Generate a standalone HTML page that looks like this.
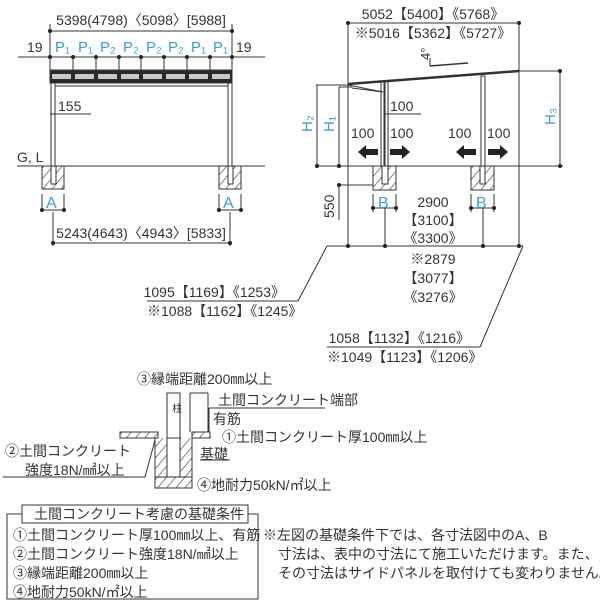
<!DOCTYPE html>
<html><head><meta charset="utf-8"><style>
html,body{margin:0;padding:0;background:#fff}
svg{display:block}
text{font-family:"Liberation Sans","Noto Sans CJK JP",sans-serif;fill:#333}
.b{fill:#3b9fd3}
</style></head><body>
<svg width="600" height="600" viewBox="0 0 600 600" xmlns="http://www.w3.org/2000/svg">
<defs>
<pattern id="h" width="7" height="7" patternUnits="userSpaceOnUse" patternTransform="rotate(40)">
<line x1="0" y1="0" x2="0" y2="7" stroke="#333" stroke-width="1.2"/></pattern>
</defs>
<g stroke="#333" stroke-width="1" fill="none">
<line x1="50" y1="31" x2="232" y2="31"/>
<line x1="50" y1="24" x2="50" y2="70"/><line x1="232" y1="24" x2="232" y2="70"/>
<line x1="18" y1="57" x2="265" y2="57"/>
<line x1="73" y1="57" x2="73" y2="70"/><line x1="96" y1="57" x2="96" y2="70"/><line x1="119" y1="57" x2="119" y2="70"/><line x1="141" y1="57" x2="141" y2="70"/><line x1="164" y1="57" x2="164" y2="70"/><line x1="187" y1="57" x2="187" y2="70"/><line x1="210" y1="57" x2="210" y2="70"/>
<rect x="50" y="70" width="182" height="13" fill="#2a2a2a"/>
<line x1="55" y1="86" x2="228" y2="86"/>
<rect x="51" y="83" width="4" height="83"/><rect x="228" y="83" width="4" height="83"/>
<line x1="50" y1="114" x2="91" y2="114"/>
<line x1="17" y1="166" x2="265" y2="166"/>
<rect x="42" y="166" width="22" height="23" fill="url(#h)"/>
<rect x="219" y="166" width="22" height="23" fill="url(#h)"/>
<rect x="51" y="166" width="5" height="18" fill="#fff"/><rect x="228" y="166" width="5" height="18" fill="#fff"/>
<line x1="42" y1="194" x2="42" y2="212"/><line x1="64" y1="194" x2="64" y2="212"/>
<line x1="219" y1="194" x2="219" y2="212"/><line x1="241" y1="194" x2="241" y2="212"/>
<line x1="40" y1="210" x2="66" y2="210"/><line x1="217" y1="210" x2="243" y2="210"/>
<line x1="53" y1="212" x2="53" y2="246"/><line x1="230" y1="212" x2="230" y2="246"/>
<line x1="53" y1="243" x2="230" y2="243"/>
<line x1="348" y1="23" x2="519" y2="23"/>
<line x1="348" y1="23" x2="348" y2="246"/><line x1="519" y1="23" x2="519" y2="246"/>
<line x1="348" y1="84" x2="519" y2="71" stroke-width="2.5"/>
<line x1="519" y1="71" x2="560" y2="71"/>
<line x1="560" y1="71" x2="560" y2="166"/>
<line x1="430" y1="66" x2="468" y2="63" stroke-width="1.5"/><line x1="430" y1="58" x2="430" y2="66"/>
<line x1="316" y1="85" x2="352" y2="85"/><line x1="339" y1="87" x2="352" y2="87"/>
<line x1="317" y1="85" x2="317" y2="166"/><line x1="339" y1="87" x2="339" y2="166"/>
<line x1="348" y1="85" x2="383" y2="92"/><line x1="352" y1="88" x2="383" y2="92"/>
<rect x="381" y="82" width="3" height="84"/><rect x="385" y="81" width="3" height="85"/>
<rect x="481" y="76" width="4" height="90"/>
<line x1="385" y1="114" x2="421" y2="114"/>
<line x1="316" y1="166" x2="563" y2="166"/>
<rect x="373" y="166" width="23" height="24" fill="url(#h)"/>
<rect x="471" y="166" width="23" height="24" fill="url(#h)"/>
<rect x="382" y="166" width="6" height="18" fill="#fff"/><rect x="480" y="166" width="5" height="18" fill="#fff"/>
<line x1="339" y1="185" x2="373" y2="185"/><line x1="339" y1="185" x2="339" y2="220"/>
<line x1="373" y1="194" x2="373" y2="212"/><line x1="396" y1="194" x2="396" y2="212"/>
<line x1="471" y1="194" x2="471" y2="212"/><line x1="494" y1="194" x2="494" y2="212"/>
<line x1="371" y1="208" x2="398" y2="208"/><line x1="469" y1="208" x2="496" y2="208"/>
<line x1="385" y1="208" x2="385" y2="246"/><line x1="483" y1="208" x2="483" y2="246"/>
<line x1="327" y1="246" x2="523" y2="246"/>
<polyline points="327,246 298,301 147,301"/>
<polyline points="523,246 480,347 327,347"/>
<rect x="167" y="393" width="13" height="72"/>
<line x1="190" y1="393" x2="190" y2="432"/><line x1="208" y1="393" x2="208" y2="432"/>
<line x1="190" y1="393" x2="208" y2="393"/>
<rect x="120" y="432" width="38" height="6" fill="url(#h)"/>
<rect x="192" y="432" width="18" height="6" fill="url(#h)"/>
<path d="M155 438 V488 H192 V438" fill="url(#h)"/>
<rect x="167" y="438" width="13" height="39" fill="#fff"/>
<line x1="155" y1="477" x2="192" y2="477"/>
<line x1="209" y1="408" x2="325" y2="408"/><line x1="209" y1="408" x2="209" y2="432"/>
<line x1="200" y1="460" x2="230" y2="460"/>
<polyline points="3,477 145,477 155,440"/>
<rect x="7" y="514" width="251" height="85"/>
<rect x="22" y="505" width="226" height="18" fill="#fff"/>
</g>
<g stroke="none" fill="#222">
<circle cx="50" cy="31" r="2"/><circle cx="232" cy="31" r="2"/>
<circle cx="50" cy="57" r="2"/><circle cx="73" cy="57" r="2"/><circle cx="96" cy="57" r="2"/><circle cx="119" cy="57" r="2"/><circle cx="141" cy="57" r="2"/><circle cx="164" cy="57" r="2"/><circle cx="187" cy="57" r="2"/><circle cx="210" cy="57" r="2"/><circle cx="232" cy="57" r="2"/>
<circle cx="53" cy="243" r="2"/><circle cx="230" cy="243" r="2"/>
<circle cx="42" cy="210" r="2"/><circle cx="64" cy="210" r="2"/><circle cx="219" cy="210" r="2"/><circle cx="241" cy="210" r="2"/>
<circle cx="348" cy="23" r="2"/><circle cx="519" cy="23" r="2"/><circle cx="560" cy="71" r="2"/><circle cx="560" cy="166" r="2"/>
<circle cx="317" cy="166" r="2"/><circle cx="339" cy="166" r="2"/><circle cx="339" cy="185" r="2"/>
<circle cx="373" cy="208" r="2"/><circle cx="396" cy="208" r="2"/><circle cx="471" cy="208" r="2"/><circle cx="494" cy="208" r="2"/>
<circle cx="348" cy="246" r="2"/><circle cx="385" cy="246" r="2"/><circle cx="483" cy="246" r="2"/><circle cx="519" cy="246" r="2"/>
<path d="M358 152 l8 -7 v4 h12 v6 h-12 v4z"/>
<path d="M410 152 l-8 -7 v4 h-12 v6 h12 v4z"/>
<path d="M456 152 l8 -7 v4 h12 v6 h-12 v4z"/>
<path d="M508 152 l-8 -7 v4 h-12 v6 h12 v4z"/>
</g>
<g fill="#c8c8c8"><rect x="52" y="74" width="19" height="5"/><rect x="75" y="74" width="19" height="5"/><rect x="98" y="74" width="19" height="5"/><rect x="121" y="74" width="18" height="5"/><rect x="143" y="74" width="19" height="5"/><rect x="166" y="74" width="19" height="5"/><rect x="189" y="74" width="19" height="5"/><rect x="212" y="74" width="18" height="5"/></g>
<g font-size="14">
<text x="141" y="25" text-anchor="middle">5398(4798)〈5098〉[5988]</text>
<text x="27" y="52">19</text><text x="236" y="52">19</text>
<g font-size="15"><text x="55" y="52" class="b">P₁</text><text x="78" y="52" class="b">P₁</text><text x="100" y="52" class="b">P₂</text><text x="123" y="52" class="b">P₂</text><text x="146" y="52" class="b">P₂</text><text x="168" y="52" class="b">P₂</text><text x="191" y="52" class="b">P₁</text><text x="213" y="52" class="b">P₁</text></g>
<text x="58" y="111">155</text>
<text x="17" y="162">G, L</text>
<text x="46" y="208" class="b" font-size="16">A</text><text x="223" y="208" class="b" font-size="16">A</text>
<text x="141" y="238" text-anchor="middle">5243(4643)〈4943〉[5833]</text>
<text x="433" y="19" text-anchor="middle">5052【5400】《5768》</text>
<text x="433" y="38" text-anchor="middle">※5016【5362】《5727》</text>
<text transform="translate(430,60) rotate(-90)" font-size="13">4°</text>
<text transform="translate(312,132) rotate(-90)" class="b" font-size="15">H₂</text>
<text transform="translate(334,132) rotate(-90)" class="b" font-size="15">H₁</text>
<text transform="translate(555,125) rotate(-90)" class="b" font-size="15">H₃</text>
<text x="390" y="111">100</text>
<text x="351" y="138">100</text><text x="390" y="138">100</text>
<text x="448" y="138">100</text><text x="487" y="138">100</text>
<text transform="translate(334,218) rotate(-90)">550</text>
<text x="378" y="208" class="b" font-size="16">B</text><text x="476" y="208" class="b" font-size="16">B</text>
<text x="433" y="207" text-anchor="middle">2900</text>
<text x="433" y="225" text-anchor="middle">【3100】</text>
<text x="433" y="243" text-anchor="middle">《3300》</text>
<text x="433" y="264" text-anchor="middle">※2879</text>
<text x="433" y="283" text-anchor="middle">【3077】</text>
<text x="433" y="302" text-anchor="middle">《3276》</text>
<text x="285" y="297" text-anchor="end">1095【1169】《1253》</text>
<text x="147" y="316">※1088【1162】《1245》</text>
<text x="470" y="343" text-anchor="end">1058【1132】《1216》</text>
<text x="327" y="362">※1049【1123】《1206》</text>
</g>
<g font-size="14">
<text x="137" y="384">③縁端距離200㎜以上</text>
<text x="218" y="405">土間コンクリート端部</text>
<text x="213" y="424">有筋</text>
<text x="222" y="442">①土間コンクリート厚100㎜以上</text>
<text x="200" y="459">基礎</text>
<text x="5" y="456">②土間コンクリート</text>
<text x="25" y="475">強度18N/㎟以上</text>
<text x="197" y="490">④地耐力50kN/㎡以上</text>
<text x="172" y="412" font-size="10">柱</text>
<text x="34" y="519">土間コンクリート考慮の基礎条件</text>
<text x="13" y="540">①土間コンクリート厚100㎜以上、有筋</text>
<text x="13" y="559">②土間コンクリート強度18N/㎟以上</text>
<text x="13" y="578">③縁端距離200㎜以上</text>
<text x="13" y="597">④地耐力50kN/㎡以上</text>
<text x="263" y="540">※左図の基礎条件下では、各寸法図中のA、B</text>
<text x="278" y="559">寸法は、表中の寸法にて施工いただけます。また、</text>
<text x="278" y="578">その寸法はサイドパネルを取付けても変わりません。</text>
</g>
</svg>
</body></html>
